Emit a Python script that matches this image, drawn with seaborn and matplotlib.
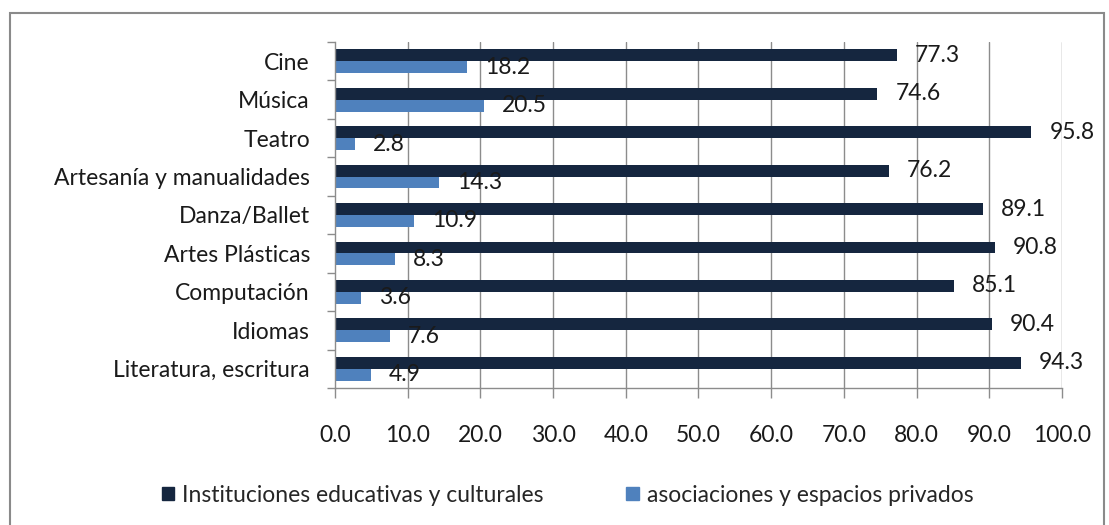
import matplotlib
matplotlib.use("Agg")
import matplotlib.pyplot as plt
from matplotlib.patches import Rectangle
import seaborn as sns
import pandas as pd
import numpy as np

categorias = ["Cine", "Música", "Teatro", "Artesanía y manualidades", "Danza/Ballet",
              "Artes Plásticas", "Computación", "Idiomas", "Literatura, escritura"]
instituciones = [77.3, 74.6, 95.8, 76.2, 89.1, 90.8, 85.1, 90.4, 94.3]
asociaciones = [18.2, 20.5, 2.8, 14.3, 10.9, 8.3, 3.6, 7.6, 4.9]
series = ["Instituciones educativas y culturales", "asociaciones y espacios privados"]
x_ticks = [0, 10, 20, 30, 40, 50, 60, 70, 80, 90, 100]

df = pd.DataFrame({
    "categoria": categorias * 2,
    "valor": instituciones + asociaciones,
    "serie": [series[0]] * len(categorias) + [series[1]] * len(categorias),
})

sns.set_theme(style="white")
plt.rcParams["font.family"] = ["Lato", "DejaVu Sans"]
FS = 16.5
dark, light, grid = "#15263f", "#4f81bd", "#8c8c8c"

fig = plt.figure(figsize=(11.09, 5.25), dpi=100)
ax = fig.add_axes([0.302, 0.261, 0.9576 - 0.302, 0.92 - 0.261])

sns.barplot(data=df, y="categoria", x="valor", hue="serie", hue_order=series,
            order=categorias, palette=[dark, light], width=0.62, orient="h",
            ax=ax, legend=False, saturation=1, linewidth=0)

for cont in ax.containers:
    ax.bar_label(cont, fmt="%.1f", padding=13, fontsize=FS, color="#1a1a1a")

ax.set_xlim(0, 100)
ax.set_ylim(len(categorias) - 0.5, -0.5)
ax.set_xticks(x_ticks)
ax.set_xticklabels([f"{v:.1f}" for v in x_ticks], fontsize=FS, color="#1a1a1a")
ax.tick_params(axis="x", length=7, width=1, color=grid, pad=20, direction="out", bottom=True)
ax.set_yticks(range(len(categorias)))
ax.set_yticklabels(categorias, fontsize=FS, color="#1a1a1a")
ax.set_yticks(np.arange(-0.5, len(categorias), 1), minor=True)
ax.tick_params(axis="y", which="major", length=0, pad=18)
ax.tick_params(axis="y", which="minor", length=6, width=1, color=grid, left=True, direction="out")
ax.set_xlabel("")
ax.set_ylabel("")

ax.grid(False)
for v in x_ticks[1:]:
    ax.axvline(v, color=grid, lw=1, zorder=0)
ax.set_axisbelow(True)
for s in ["top", "right"]:
    ax.spines[s].set_visible(False)
for s in ["left", "bottom"]:
    ax.spines[s].set_color(grid)
    ax.spines[s].set_linewidth(1)

handles = [Rectangle((0, 0), 1, 1, color=dark), Rectangle((0, 0), 1, 1, color=light)]
fig.legend(handles, series, loc="center", bbox_to_anchor=(0.512, 0.057), ncol=2,
           frameon=False, fontsize=FS, handlelength=0.55, handleheight=0.55,
           handletextpad=0.35, columnspacing=3.6)

fig.patches.append(Rectangle((10 / 1109, -0.05), (1104 - 10) / 1109, 1 - 13 / 525 + 0.05,
                             transform=fig.transFigure, fill=False,
                             edgecolor="#8a8a8a", lw=1.5))

fig.savefig("out.png", dpi=100)
